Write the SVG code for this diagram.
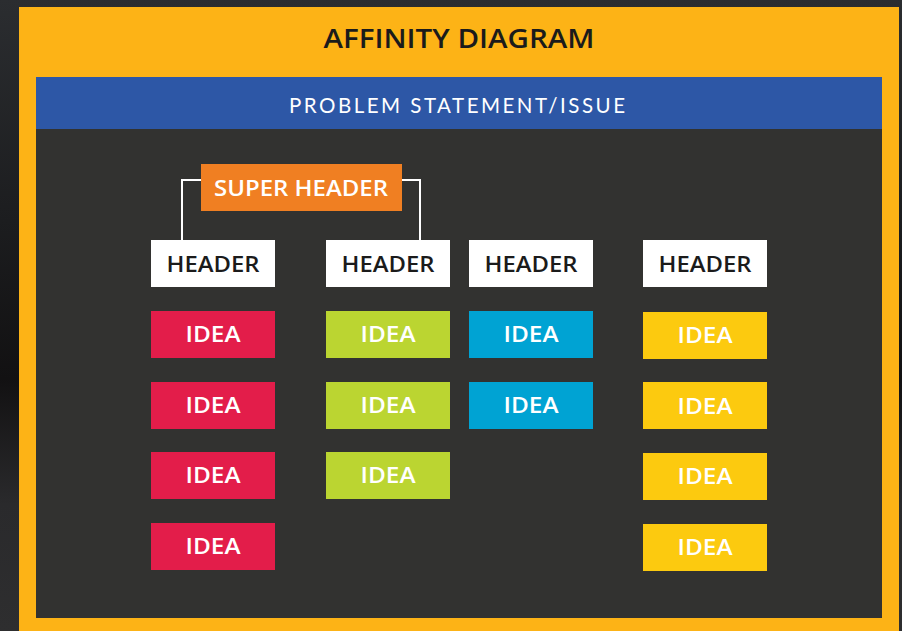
<svg xmlns="http://www.w3.org/2000/svg" width="902" height="631" viewBox="0 0 902 631">
<defs>
<linearGradient id="bg" x1="0" y1="0" x2="0" y2="1">
<stop offset="0" stop-color="#2b2d30"/>
<stop offset="0.35" stop-color="#1c1d1f"/>
<stop offset="0.6" stop-color="#121112"/>
<stop offset="0.8" stop-color="#2a2a2c"/>
<stop offset="1" stop-color="#2e2e2f"/>
</linearGradient>
</defs>
<style>
.t{font-family:"Open Sans","Lato","Noto Sans",sans-serif;font-weight:600;text-anchor:middle}
.hdr{fill:#ffffff}
.ht{fill:#1b1b1b;font-size:21.5px}
.it{fill:#ffffff;font-size:22px}
.red{fill:#e31d4a}
.grn{fill:#bbd531}
.cyn{fill:#00a3d3}
.yel{fill:#fcca0f}
.conn{fill:none;stroke:#ffffff;stroke-width:2}
</style>
<rect x="0" y="0" width="902" height="631" fill="url(#bg)"/>
<rect x="19" y="7" width="880" height="624" fill="#fdb316"/>
<text x="459" y="48" class="t" font-size="26.5" fill="#1b1b1b" textLength="271" lengthAdjust="spacingAndGlyphs">AFFINITY DIAGRAM</text>
<rect x="36" y="77" width="846" height="52" fill="#2d57a6"/>
<rect x="36" y="129" width="846" height="489" fill="#323230"/>
<text x="458" y="113" font-family="Lato,'Noto Sans',sans-serif" font-size="20.5" font-weight="400" fill="#ffffff" text-anchor="middle" letter-spacing="2" textLength="338" lengthAdjust="spacing">PROBLEM STATEMENT/ISSUE</text>
<g id="connectors">
<path class="conn" d="M201,180 H182 V240"/>
<path class="conn" d="M402,180 H420 V240"/>
</g>
<g id="super-header">
<rect x="201" y="164" width="201" height="47" fill="#f07f22"/>
<text x="301" y="196" class="t" font-size="21.5" fill="#ffffff" textLength="174" lengthAdjust="spacingAndGlyphs">SUPER HEADER</text>
</g>
<g id="header-1"><rect x="151" y="240" width="124" height="47" class="hdr"/><text x="213" y="272" class="t ht" textLength="93" lengthAdjust="spacingAndGlyphs">HEADER</text></g>
<g id="header-2"><rect x="326" y="240" width="124" height="47" class="hdr"/><text x="388" y="272" class="t ht" textLength="93" lengthAdjust="spacingAndGlyphs">HEADER</text></g>
<g id="header-3"><rect x="469" y="240" width="124" height="47" class="hdr"/><text x="531" y="272" class="t ht" textLength="93" lengthAdjust="spacingAndGlyphs">HEADER</text></g>
<g id="header-4"><rect x="643" y="240" width="124" height="47" class="hdr"/><text x="705" y="272" class="t ht" textLength="93" lengthAdjust="spacingAndGlyphs">HEADER</text></g>
<g id="idea-1-1"><rect x="151" y="311" width="124" height="47" class="red"/><text x="213" y="342" class="t it" textLength="55" lengthAdjust="spacingAndGlyphs">IDEA</text></g>
<g id="idea-1-2"><rect x="151" y="382" width="124" height="47" class="red"/><text x="213" y="413" class="t it" textLength="55" lengthAdjust="spacingAndGlyphs">IDEA</text></g>
<g id="idea-1-3"><rect x="151" y="452" width="124" height="47" class="red"/><text x="213" y="483" class="t it" textLength="55" lengthAdjust="spacingAndGlyphs">IDEA</text></g>
<g id="idea-1-4"><rect x="151" y="523" width="124" height="47" class="red"/><text x="213" y="554" class="t it" textLength="55" lengthAdjust="spacingAndGlyphs">IDEA</text></g>
<g id="idea-2-1"><rect x="326" y="311" width="124" height="47" class="grn"/><text x="388" y="342" class="t it" textLength="55" lengthAdjust="spacingAndGlyphs">IDEA</text></g>
<g id="idea-2-2"><rect x="326" y="382" width="124" height="47" class="grn"/><text x="388" y="413" class="t it" textLength="55" lengthAdjust="spacingAndGlyphs">IDEA</text></g>
<g id="idea-2-3"><rect x="326" y="452" width="124" height="47" class="grn"/><text x="388" y="483" class="t it" textLength="55" lengthAdjust="spacingAndGlyphs">IDEA</text></g>
<g id="idea-3-1"><rect x="469" y="311" width="124" height="47" class="cyn"/><text x="531" y="342" class="t it" textLength="55" lengthAdjust="spacingAndGlyphs">IDEA</text></g>
<g id="idea-3-2"><rect x="469" y="382" width="124" height="47" class="cyn"/><text x="531" y="413" class="t it" textLength="55" lengthAdjust="spacingAndGlyphs">IDEA</text></g>
<g id="idea-4-1"><rect x="643" y="312" width="124" height="47" class="yel"/><text x="705" y="343" class="t it" textLength="55" lengthAdjust="spacingAndGlyphs">IDEA</text></g>
<g id="idea-4-2"><rect x="643" y="382" width="124" height="47" class="yel"/><text x="705" y="414" class="t it" textLength="55" lengthAdjust="spacingAndGlyphs">IDEA</text></g>
<g id="idea-4-3"><rect x="643" y="453" width="124" height="47" class="yel"/><text x="705" y="484" class="t it" textLength="55" lengthAdjust="spacingAndGlyphs">IDEA</text></g>
<g id="idea-4-4"><rect x="643" y="524" width="124" height="47" class="yel"/><text x="705" y="555" class="t it" textLength="55" lengthAdjust="spacingAndGlyphs">IDEA</text></g>
</svg>
